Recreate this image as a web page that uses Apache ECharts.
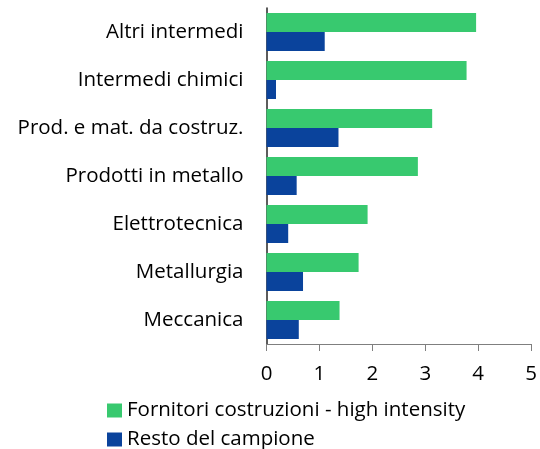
<!DOCTYPE html>
<html><head><meta charset="utf-8">
<script src="https://cdn.jsdelivr.net/npm/echarts@6/dist/echarts.min.js"></script>
<style>html,body{margin:0;padding:0;background:#fff}#c{width:540px;height:449px}</style>
</head><body><div id="c"></div>
<script>
const categories = ["Altri intermedi","Intermedi chimici","Prod. e mat. da costruz.","Prodotti in metallo","Elettrotecnica","Metallurgia","Meccanica"];
const fornitori = [3.96, 3.78, 3.13, 2.86, 1.91, 1.74, 1.38];
const resto = [1.10, 0.18, 1.36, 0.57, 0.41, 0.69, 0.61];
const seriesNames = ["Fornitori costruzioni - high intensity", "Resto del campione"];
const xTicks = [0, 5, 1];

const font = "Open Sans";
const fs = 20.5;
const legendBase = {
  orient: 'vertical', left: 102,
  itemWidth: 15, itemHeight: 14, itemGap: 9,
  icon: 'rect',
  textStyle: {fontFamily: font, fontSize: fs, color: '#000'}
};
const chart = echarts.init(document.getElementById('c'), null, {renderer: 'canvas'});
chart.setOption({
  animation: false,
  grid: {left: 266.5, right: 7, top: 8, bottom: 105, containLabel: false},
  legend: [
    Object.assign({}, legendBase, {top: 395, data: [seriesNames[0]]}),
    Object.assign({}, legendBase, {top: 424, data: [seriesNames[1]]})
  ],
  xAxis: {
    type: 'value', min: xTicks[0], max: xTicks[1], interval: xTicks[2],
    axisLine: {show: true, lineStyle: {color: '#7f7f7f', width: 1}},
    axisTick: {show: true, length: 7, lineStyle: {color: '#7f7f7f'}},
    splitLine: {show: false},
    axisLabel: {fontFamily: font, fontSize: fs, color: '#000', margin: 20}
  },
  yAxis: {
    type: 'category', data: categories, inverse: true,
    axisLine: {show: true, lineStyle: {color: '#262626', width: 1.5}},
    axisTick: {show: false},
    axisLabel: {fontFamily: font, fontSize: fs, color: '#000', margin: 23}
  },
  series: [
    {name: seriesNames[0], type: 'bar', data: fornitori, barWidth: 19, barGap: '0%',
     itemStyle: {color: '#38C96F'}},
    {name: seriesNames[1], type: 'bar', data: resto, barWidth: 19, barGap: '0%',
     itemStyle: {color: '#0A439C'}}
  ]
});
</script></body></html>
